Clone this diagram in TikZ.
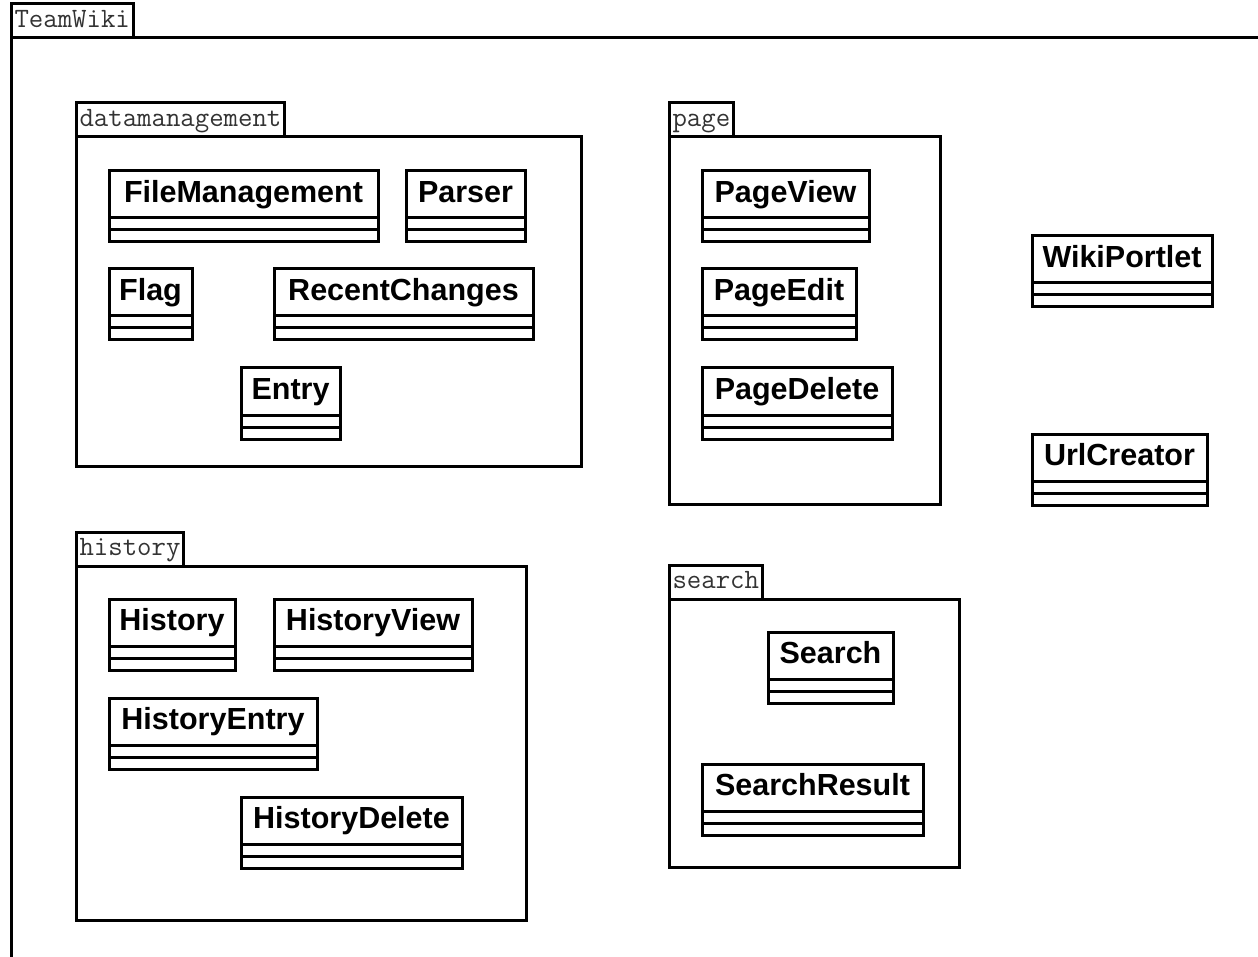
\documentclass[tikz,border=0pt]{standalone}
\usepackage{fontspec}
\setmainfont{Liberation Sans}
\usepackage{tikz}
\usetikzlibrary{positioning}

\tikzset{
  frame/.style={line width=3pt},
  pkgtab/.style={draw, line width=3pt, inner xsep=3.5pt, inner ysep=0pt, outer sep=0pt,
    minimum height=34pt, text height=18pt, text depth=5pt, text=black!80,
    font=\ttfamily\fontsize{28}{28}\selectfont, anchor=south west},
  pkgbody/.style={draw, line width=3pt, inner sep=0pt, outer sep=0pt},
  cls/.style={draw, line width=3pt, inner sep=0pt, outer sep=0pt, minimum height=47pt,
    text height=22pt, text depth=6pt, anchor=north west,
    font=\bfseries\fontsize{30.5}{31}\selectfont},
  compart/.style={line width=3pt}
}

\begin{document}
\begin{tikzpicture}[x=1pt, y=-1pt]
  \useasboundingbox (0,0) rectangle (1258,957);

  % Frame
  \node (teamwiki) [pkgtab] at (11,38) {TeamWiki};
  \draw[frame] (1262,38) -- (teamwiki.south west) -- (11,962);

  % Packages
  \node (dmtab) [pkgtab] at (76,137) {datamanagement};
  \node (dm) [pkgbody, minimum width=505pt, minimum height=329pt, below right=0pt of dmtab.south west] {};
  \node (pagetab) [pkgtab] at (669,137) {page};
  \node (page) [pkgbody, minimum width=271pt, minimum height=367pt, below right=0pt of pagetab.south west] {};
  \node (histtab) [pkgtab] at (76,566) {history};
  \node (hist) [pkgbody, minimum width=450pt, minimum height=354pt, below right=0pt of histtab.south west] {};
  \node (searchtab) [pkgtab] at (669,599) {search};
  \node (srch) [pkgbody, minimum width=290pt, minimum height=268pt, below right=0pt of searchtab.south west] {};

  % Classes
  \node (filemgmt) [cls, minimum width=269pt] at (109,171) {FileManagement};
  \node (parser) [cls, minimum width=119pt] at (406,171) {Parser};
  \node (flag) [cls, minimum width=83pt] at (109,269) {Flag};
  \node (recent) [cls, minimum width=259pt] at (274,269) {RecentChanges};
  \node (entry) [cls, minimum width=99pt] at (241,368) {Entry};

  \node (pageview) [cls, minimum width=167pt] at (702,171) {PageView};
  \node (pageedit) [cls, minimum width=154pt] at (702,269) {PageEdit};
  \node (pagedelete) [cls, minimum width=190pt] at (702,368) {PageDelete};

  \node (portlet) [cls, minimum width=180pt] at (1032,236) {WikiPortlet};
  \node (urlcreator) [cls, minimum width=175pt] at (1032,434) {UrlCreator};

  \node (history) [cls, minimum width=126pt] at (109,599) {History};
  \node (histview) [cls, minimum width=198pt] at (274,599) {HistoryView};
  \node (histentry) [cls, minimum width=208pt] at (109,698) {HistoryEntry};
  \node (histdelete) [cls, minimum width=221pt] at (241,797) {HistoryDelete};

  \node (search) [cls, minimum width=125pt] at (768,632) {Search};
  \node (result) [cls, minimum width=221pt] at (702,764) {SearchResult};

  % Compartments
  \foreach \c in {filemgmt,parser,flag,recent,entry,pageview,pageedit,pagedelete,
                  portlet,urlcreator,history,histview,histentry,histdelete,search,result} {
    \draw[compart] (\c.south west) rectangle ([yshift=-12pt]\c.south east);
    \draw[compart] ([yshift=-12pt]\c.south west) rectangle ([yshift=-24pt]\c.south east);
  }

\end{tikzpicture}
\end{document}
